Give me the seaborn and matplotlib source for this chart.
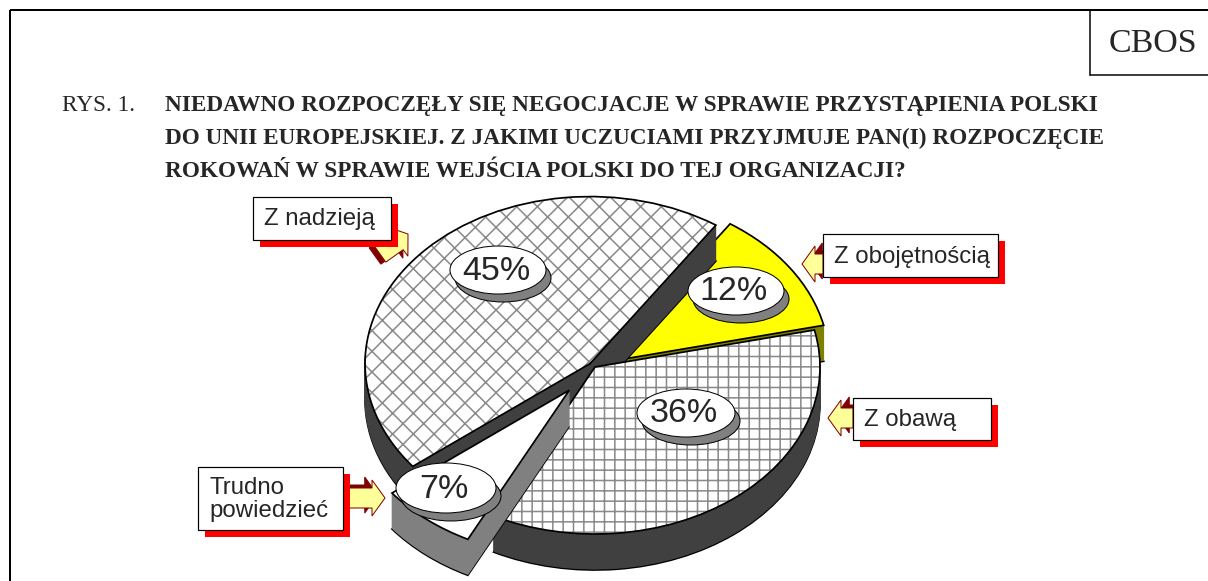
import matplotlib
matplotlib.use("Agg")
import matplotlib.pyplot as plt
import matplotlib.patches as mpatches
import seaborn as sns

# ---- data ----
categories = ['Z obojętnością', 'Z obawą', 'Trudno\npowiedzieć', 'Z nadzieją']
shares = [12, 36, 7, 45]
pct_labels = ['12%', '36%', '7%', '45%']
title_lines = ['NIEDAWNO ROZPOCZĘŁY SIĘ NEGOCJACJE W SPRAWIE PRZYSTĄPIENIA POLSKI',
               'DO UNII EUROPEJSKIEJ. Z JAKIMI UCZUCIAMI PRZYJMUJE PAN(I) ROZPOCZĘCIE',
               'ROKOWAŃ W SPRAWIE WEJŚCIA POLSKI DO TEJ ORGANIZACJI?']

# ---- styling / layout ----
DPI = 124
W, H = 1208, 581
explode = [0.05, 0.0, 0.18, 0.03]
top_colors = ['#ffff00', 'white', 'white', 'white']
hatches = [None, '++', None, 'xx']
wall_colors = ['#808000', '#404040', '#808080', '#404040']
draw_rank = [0, 2, 3, 1]  # back slices first
cx, cy, rx, ry = 595, 367, 225, 167
depth_px = 36
n_layers = 36

# bubble centres (px), label boxes (x, y, w, h), arrows (tail, tip)
bubble_pos = [(736, 291), (686, 413), (446, 488), (498, 270)]
bubble_size = [(96, 48), (98, 48), (100, 50), (96, 48)]
box_pos = [(823, 234, 175, 43), (853, 398, 138, 42), (198, 467, 145, 63), (253, 197, 138, 43)]
arrow_pos = [((823, 264), (802, 264)), ((853, 418), (828, 418)),
             ((348, 498), (385, 498)), ((380, 254), (408, 234))]


def px(p):
    return p * 72 / DPI


sns.set_theme(style="white")
plt.rcParams['hatch.linewidth'] = 0.9
plt.rcParams['font.family'] = ['Liberation Sans', 'DejaVu Sans']

fig = plt.figure(figsize=(W / DPI, H / DPI), dpi=DPI)
fig.patch.set_facecolor('white')

# pie drawn as stacked layers to get the 3D look
ax_pie = fig.add_axes([(cx - 2 * rx) / W, (H - cy - 2 * ry) / H, 4 * rx / W, 4 * ry / H])
depth = depth_px / ry
for k in range(n_layers + 1):
    off = depth * (1 - k / n_layers)
    top = k == n_layers
    wedges, _ = ax_pie.pie(shares, explode=explode, startangle=56, counterclock=False,
                           center=(0, -off), radius=1)
    for i, w in enumerate(wedges):
        w.set_zorder(draw_rank[i] * 100 + k)
        if top:
            w.set_facecolor(top_colors[i])
            w.set_edgecolor('#8a8a8a')
            w.set_linewidth(0)
            if hatches[i]:
                w.set_hatch(hatches[i])
        elif k == 0:
            w.set_facecolor(wall_colors[i])
            w.set_edgecolor('black')
            w.set_linewidth(1.0)
        else:
            w.set_facecolor(wall_colors[i])
            w.set_edgecolor(wall_colors[i])
            w.set_linewidth(0.6)
outline, _ = ax_pie.pie(shares, explode=explode, startangle=56, counterclock=False,
                        center=(0, 0), radius=1,
                        wedgeprops=dict(fill=False, edgecolor='black', linewidth=1.0))
for i, w in enumerate(outline):
    w.set_zorder(draw_rank[i] * 100 + n_layers + 1)
ax_pie.set_aspect('auto')
ax_pie.set_xlim(-2, 2)
ax_pie.set_ylim(-2, 2)
ax_pie.axis('off')

# overlay in pixel coordinates
ax = fig.add_axes([0, 0, 1, 1])
ax.set_xlim(0, W)
ax.set_ylim(H, 0)
ax.axis('off')
ax.patch.set_alpha(0)

# frame and CBOS box
ax.plot([10, W], [10, 10], color='black', lw=px(2), solid_capstyle='butt')
ax.plot([10, 10], [10, H], color='black', lw=px(2), solid_capstyle='butt')
ax.plot([1090, 1090], [10, 75], color='black', lw=px(1.5))
ax.plot([1090, W], [75, 75], color='black', lw=px(1.5))
ax.text(1153, 52, 'CBOS', fontsize=px(34), family=['Liberation Serif'],
        ha='center', va='baseline')

# title
ax.text(62, 111, 'RYS. 1.', fontsize=px(23.2), family=['Liberation Serif'], va='baseline')
for j, line in enumerate(title_lines):
    ax.text(165, 111 + 33 * j, line, fontsize=px(23.2), family=['Liberation Serif'],
            fontweight='bold', va='baseline')

# percentage bubbles
for (bx, by), (bw, bh), lab in zip(bubble_pos, bubble_size, pct_labels):
    ax.add_patch(mpatches.Ellipse((bx + 5, by + 8), bw, bh, facecolor='#808080',
                                  edgecolor='black', lw=px(1), zorder=5))
    ax.add_patch(mpatches.Ellipse((bx, by), bw, bh, facecolor='white',
                                  edgecolor='black', lw=px(1), zorder=6))
    ax.text(bx - 2, by + 1, lab, fontsize=px(34), ha='center', va='center', zorder=7)

# category label boxes with arrows
for (x0, y0, bw, bh), lab, (tail, tip) in zip(box_pos, categories, arrow_pos):
    ax.add_patch(mpatches.Rectangle((x0 + 7, y0 + 7), bw, bh, facecolor='#ff0000',
                                    edgecolor='none', zorder=5))
    ax.add_patch(mpatches.Rectangle((x0, y0), bw, bh, facecolor='white',
                                    edgecolor='black', lw=px(1.2), zorder=6))
    ax.text(x0 + 11, y0 + bh / 2 + 1, lab, fontsize=px(24), ha='left', va='center',
            linespacing=1.0, zorder=7)
    dx, dy = tip[0] - tail[0], tip[1] - tail[1]
    for shift, fc in (((-0.25 * dx + 2, -0.25 * dy - 3), '#800000'), ((0, 0), '#ffff99')):
        ax.add_patch(mpatches.FancyArrow(tail[0] + shift[0], tail[1] + shift[1], dx, dy,
                                         width=20, head_width=36, head_length=13,
                                         length_includes_head=True, facecolor=fc,
                                         edgecolor='#800000', lw=px(1), zorder=4))

fig.savefig('out.png', dpi=DPI)
